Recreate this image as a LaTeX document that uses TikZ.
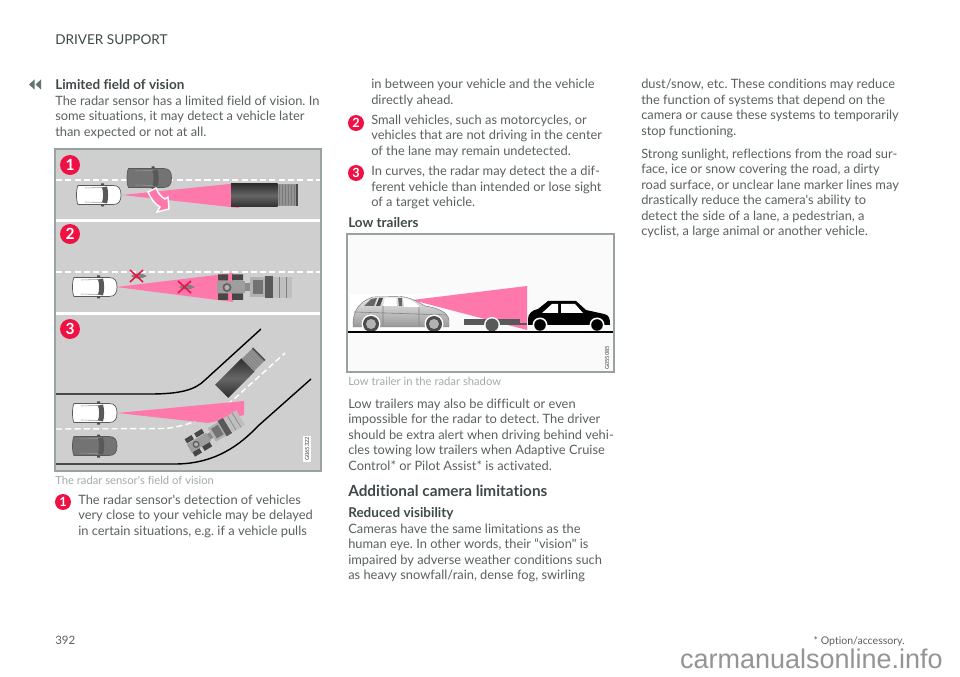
\documentclass[tikz,border=0pt]{standalone}
\usepackage{fontspec}
\setmainfont{Lato}[Ligatures={TeXOff,NoCommon}]
\newfontfamily\markfont{Liberation Sans}
\usetikzlibrary{positioning}

\definecolor{bodygrey}{HTML}{59615F}
\definecolor{headgrey}{HTML}{3E4A4A}
\definecolor{capgrey}{HTML}{A3ABAA}
\definecolor{framegrey}{HTML}{98A3A1}
\definecolor{roadgrey}{HTML}{CFCFCF}
\definecolor{radarpink}{HTML}{FF78AC}
\definecolor{badgered}{HTML}{EE1144}
\definecolor{cardark}{HTML}{737373}
\definecolor{backgrey}{HTML}{647472}

\newcommand{\bodysize}{\fontsize{9.15}{11.02}\selectfont}
\newcommand{\boldsize}{\fontsize{9.6}{11.02}\selectfont}

\tikzset{
    bodytext/.style={anchor=north west, inner sep=0pt, align=left, text=bodygrey, font=\bodysize},
    headtext/.style={anchor=north west, inner sep=0pt, text=headgrey, font=\boldsize\bfseries},
    captext/.style={anchor=north west, inner sep=0pt, text=capgrey, font=\fontsize{8}{9}\selectfont},
    bigbadge/.style={circle, fill=badgered, text=white, inner sep=0pt, minimum size=20*0.711pt, font=\fontsize{11}{11}\selectfont\bfseries},
    smallbadge/.style={circle, fill=badgered, text=white, inner sep=0pt, minimum size=16*0.711pt, font=\fontsize{9}{9}\selectfont\bfseries},
    radar/.style={fill=radarpink, draw=none},
    idlabel/.style={fill=white, inner sep=1pt, rotate=90, text=black!75, font=\fontsize{4}{4}\selectfont},
    pics/topcar/.style={code={
        \fill[#1, draw=black!65, line width=0.5pt] (-21,-9.5) -- (14,-9.5) .. controls (20,-9.5) and (22,-6) .. (22,0)
            .. controls (22,6) and (20,9.5) .. (14,9.5) -- (-21,9.5)
            .. controls (-23,6) and (-23,-6) .. (-21,-9.5) -- cycle;
        % glass
        \fill[black!65] (3,-7.5) -- (8,-8.5) .. controls (9.5,-4) and (9.5,4) .. (8,8.5) -- (3,7.5)
            .. controls (4.5,3) and (4.5,-3) .. (3,-7.5) -- cycle;
        \draw[black!40, line width=0.4pt] (-14,-7) -- (3,-7.5) (-14,7) -- (3,7.5);
        \fill[black!70] (2,-11.5) rectangle (5,-9.5) (2,9.5) rectangle (5,11.5);
    }},
    pics/toptruck/.style={code={
        \shade[top color=black!82, bottom color=black!82, middle color=black!60] (-23.5,-11.5) rectangle (23,11.5);
        \fill[black!42] (23,-11) rectangle (41,11);
        \foreach \i in {25,28,...,40}
            \draw[black!52, line width=0.3pt] (\i,-10) -- (\i,10);
        \fill[black!70] (41,-11) rectangle (43,11);
    }},
    pics/toptractor/.style={code={
        % rear axles
        \fill[black!72] (-23,-13) rectangle (-13,-7) (-23,6) rectangle (-13,12.5);
        \fill[black!72] (-9,-13) rectangle (2,-7) (-9,6) rectangle (2,12.5);
        \fill[black!38] (-24,-6) rectangle (4,6);
        \fill[black!62] (-14,0) circle (4.5);
        \fill[black!30] (-14,0) circle (2.5);
        \fill[black!45] (4,-4) rectangle (9,4);
        % cab
        \fill[black!30] (9,-10) rectangle (24,10);
        \fill[black!55] (12,-7) rectangle (22,7);
        \fill[black!65] (24,-11) rectangle (32,11);
        \fill[black!25] (32,-10.5) rectangle (51,10.5);
        \draw[black!50, line width=0.4pt] (38,-10.5) -- (38,10.5) (45,-10.5) -- (45,10.5);
    }},
    pics/motorbike/.style={code={
        \fill[black!50] (-7,0) .. controls (-3,-3.5) and (3,-3.5) .. (9,0)
            .. controls (3,3.5) and (-3,3.5) .. (-7,0) -- cycle;
        \draw[badgered, line width=1.1pt] (-8,-6) -- (5,6) (-8,6) -- (5,-6);
    }}
}

\begin{document}
\begin{tikzpicture}[x=0.25mm, y=-0.25mm]
    \useasboundingbox (0,0) rectangle (960,677);
    \fill[white] (0,0) rectangle (960,677);
    \frenchspacing

    % page furniture
    \node[bodytext, text=headgrey, font=\fontsize{9.65}{11}\selectfont] (pagehead) at (55,34.5) {DRIVER SUPPORT};
    \fill[backgrey] (29,84.5) -- (34.5,79.5) -- (34.5,89.5) -- cycle;
    \fill[backgrey] (35.5,84.5) -- (41,79.5) -- (41,89.5) -- cycle;
    \node[bodytext, font=\fontsize{8.2}{11}\selectfont] (pagenum) at (55,636) {392};
    \node[bodytext, anchor=north east, font=\fontsize{7.5}{11}\selectfont] (optnote) at (905,636.5) {* Option/accessory.};
    \node[inner sep=0pt, anchor=base east, text=black!42, font=\markfont\fontsize{19.2}{24}\selectfont] (watermark) at (943,668) {carmanualsonline.info};

    % first column text
    \node[headtext] (limhead) at (55,79) {Limited field of vision};
    \node[bodytext] (limtext) at (55,95.5) {The radar sensor has a limited field of vision. In\\
        some situations, it may detect a vehicle later\\
        than expected or not at all.};
    \node[captext] (limcap) at (55,475.5) {The radar sensor's field of vision};
    \node[smallbadge] (cb1) at (63,502) {1};
    \node[bodytext] (item1) at (78,494.5) {The radar sensor's detection of vehicles\\
        very close to your vehicle may be delayed\\
        in certain situations, e.g. if a vehicle pulls};

    % sensor figure
    \fill[roadgrey] (55,149) rectangle (321,471);
    \fill[white] (55,219) rectangle (321,222.5);
    \fill[white] (55,312) rectangle (321,315.5);
    \draw[white, line width=1pt, dash pattern=on 4.3pt off 2.3pt] (56,180) -- (320,180);
    \draw[white, line width=1pt, dash pattern=on 4.3pt off 2.3pt] (56,272) -- (320,272);

    % lane 1
    \fill[radar] (122,195) -- (239,183) -- (239,208) -- cycle;
    \pic at (99,195) {topcar=white};
    \pic at (149.5,178) {topcar=cardark};
    \pic at (254.5,195.5) {toptruck};
    \draw[white, line width=1pt, fill=radarpink] (148,192) -- (156,188)
        .. controls (158,193) and (161,197) .. (165,199) -- (168,197) -- (169,209) -- (157,212)
        -- (160,207) .. controls (155,204) and (151,199) .. (148,192) -- cycle;

    % lane 2
    \fill[radar] (116,287) -- (233,273) -- (233,302) -- cycle;
    \pic at (95,287) {topcar=white};
    \pic at (138,276) {motorbike};
    \pic at (186,287) {motorbike};
    \pic at (241,287.5) {toptractor};

    % lane 3
    \draw[black, line width=1pt] (56,394) -- (150,394) .. controls (180,394) and (195,390) .. (205,380) -- (261,329);
    \draw[black, line width=1pt] (56,464) -- (175,464) .. controls (215,464) and (240,445) .. (258,426) -- (311,379);
    \draw[white, line width=1pt, dash pattern=on 4.3pt off 2.3pt] (56,429) -- (165,428.5) .. controls (190,426) and (215,415) .. (233,400) -- (285,353);
    \pic[scale=0.8, rotate=45] at (235,378) {toptruck};
    \fill[radar] (117,413) -- (244,401) -- (244,415) -- (208,423) -- cycle;
    \pic at (95,413) {topcar=white};
    \pic at (95,446) {topcar=cardark};
    \pic[scale=0.8, rotate=31] at (205.7,438.6) {toptractor};
    \node[idlabel, minimum width=24*0.711pt, minimum height=8*0.711pt] (idleft) at (307,449) {G065322};

    \node[bigbadge] (lane1) at (70,165) {1};
    \node[bigbadge] (lane2) at (70,234) {2};
    \node[bigbadge] (lane3) at (70,329) {3};
    \draw[framegrey, line width=1pt] (55,149) rectangle (321,471);

    % second column text
    \node[bodytext] (item1b) at (371,79) {in between your vehicle and the vehicle\\
        directly ahead.};
    \node[smallbadge] (cb2) at (356,123) {2};
    \node[bodytext] (item2) at (371,114.5) {Small vehicles, such as motorcycles, or\\
        vehicles that are not driving in the center\\
        of the lane may remain undetected.};
    \node[smallbadge] (cb3) at (356,173) {3};
    \node[bodytext] (item3) at (371,166) {In curves, the radar may detect the a dif-\\
        ferent vehicle than intended or lose sight\\
        of a target vehicle.};
    \node[headtext] (lowhead) at (348,217.5) {Low trailers};

    % trailer figure
    \fill[black!2] (347,234) rectangle (614,372);
    \fill[white] (350,294) rectangle (450,331);
    \fill[radar] (412,300) -- (527,286) -- (527,330) -- cycle;
    \shade[top color=black!8, bottom color=black!40, draw=black!55, line width=0.3pt]
        (353,325) .. controls (353,312) and (358,305) .. (366,300) -- (373,297) -- (400,296.5)
        .. controls (410,297) and (418,302) .. (425,306) .. controls (438,308) and (448,312) .. (449,320)
        -- (449,327) -- (353,327) -- cycle;
    \fill[black!60] (371,299) -- (377,298) -- (374,306) -- (364,306) -- cycle;
    \fill[black!70] (379,298) -- (376,306) -- (380,306) -- (383,298) -- cycle;
    \fill[white] (385,298) -- (383,306) -- (397,306) -- (396,298) -- cycle;
    \fill[black!60] (398,298) -- (399,306) -- (402,306) -- (402,298) -- cycle;
    \fill[white] (403,298) -- (404,307) -- (420,307) .. controls (415,302) and (410,299) .. (403,298) -- cycle;
    \draw[black!50, line width=0.4pt] (354,312) -- (447,315) (383,306) -- (383,326) (419,307) -- (419,326);
    \foreach \wx in {371,434}{
        \fill[white] (\wx,324) circle (9.5);
        \fill[black!70] (\wx,324) circle (8);
        \fill[black!30] (\wx,324) circle (5);
    }
    \fill[black!65] (464,319) rectangle (520,325);
    \fill[black!65] (520,323) rectangle (527,325);
    \fill[white] (492,325) circle (8);
    \fill[black!65] (492,325) circle (6.5);
    \fill[black] (528,319) .. controls (528,314) and (532,310) .. (538,309) -- (548,301) -- (576,301)
        -- (586,310) -- (604,314) .. controls (609,315) and (610,318) .. (610,325) -- (528,325) -- cycle;
    \fill[white] (552,304) -- (558,304) -- (558,313) -- (542,313) -- cycle;
    \fill[white] (561,304) -- (575,304) -- (583,313) -- (561,313) -- cycle;
    \foreach \wx in {540,597}{
        \fill[white] (\wx,325) circle (7.5);
        \fill[black] (\wx,325) circle (5.8);
    }
    \draw[black, line width=1pt] (347,332) -- (614,332);
    \node[idlabel, fill=none] (idright) at (607,358) {G055085};
    \draw[framegrey, line width=1pt] (347,234) rectangle (614,372);

    \node[captext] (lowcap) at (348,376.5) {Low trailer in the radar shadow};
    \node[bodytext] (lowtext) at (348,398.5) {Low trailers may also be difficult or even\\
        impossible for the radar to detect. The driver\\
        should be extra alert when driving behind vehi-\\
        cles towing low trailers when Adaptive Cruise\\
        Control* or Pilot Assist* is activated.};
    \node[headtext, font=\fontsize{10.9}{12}\selectfont\bfseries] (camhead) at (348,485) {Additional camera limitations};
    \node[headtext] (redhead) at (348,507.5) {Reduced visibility};
    \node[bodytext] (redtext) at (348,523.5) {Cameras have the same limitations as the\\
        human eye. In other words, their “vision" is\\
        impaired by adverse weather conditions such\\
        as heavy snowfall/rain, dense fog, swirling};

    % third column text
    \node[bodytext] (duststext) at (641,79) {dust/snow, etc. These conditions may reduce\\
        the function of systems that depend on the\\
        camera or cause these systems to temporarily\\
        stop functioning.};
    \node[bodytext] (suntext) at (641,148.5) {Strong sunlight, reflections from the road sur-\\
        face, ice or snow covering the road, a dirty\\
        road surface, or unclear lane marker lines may\\
        drastically reduce the camera's ability to\\
        detect the side of a lane, a pedestrian, a\\
        cyclist, a large animal or another vehicle.};
\end{tikzpicture}
\end{document}
